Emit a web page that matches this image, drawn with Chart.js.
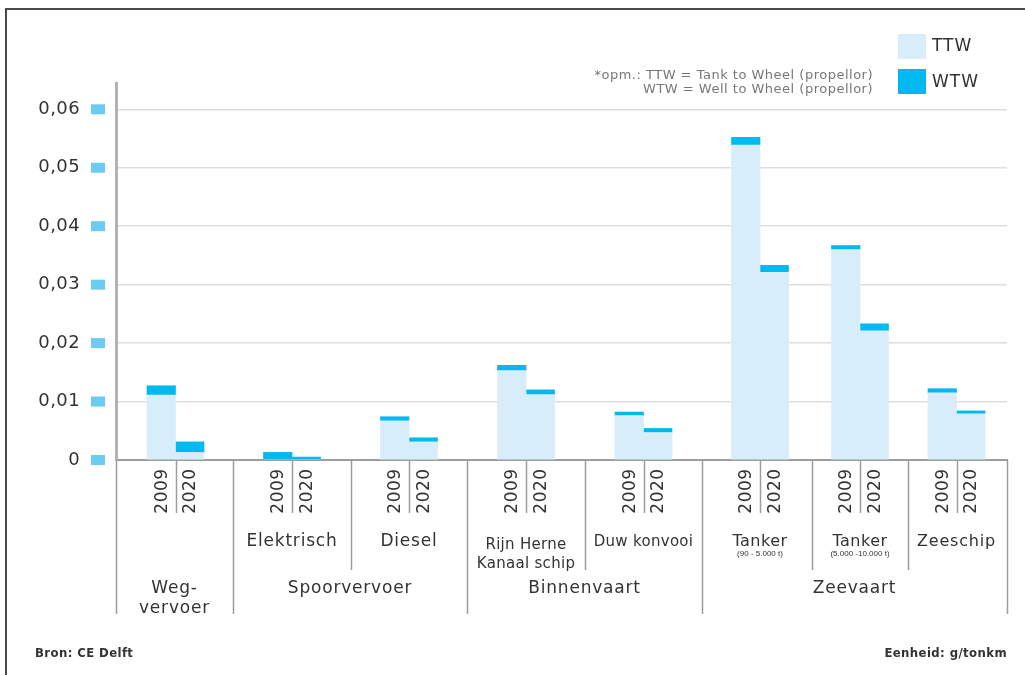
<!DOCTYPE html>
<html lang="nl">
<head>
<meta charset="utf-8">
<title>Uitstoot per tonkm - TTW en WTW</title>
<script src="https://cdn.jsdelivr.net/npm/chart.js@4.4.1/dist/chart.umd.min.js"></script>
<style>
  html, body { margin: 0; padding: 0; background: #fff; }
  #wrap { width: 1025px; height: 675px; }
</style>
</head>
<body>
<div id="wrap"><canvas id="grafiek" width="1025" height="675"></canvas></div>
<script>
// ---- Gegevens (g/tonkm) ----
const jaren = ['2009', '2020'];
const categorieen = [['Weg-', 'vervoer'], ['Spoorvervoer'], ['Binnenvaart'], ['Zeevaart']];
const groepenPerCategorie = [1, 2, 2, 3];
const groepen = [
    [], ['Elektrisch'], ['Diesel'], ['Rijn Herne', 'Kanaal schip'], ['Duw konvooi'],
    ['Tanker', '(90 - 5.000 t)'], ['Tanker', '(5.000 -10.000 t)'], ['Zeeschip']
];
const ttw2009 = [0.0111, 0.0000, 0.0067, 0.0153, 0.0076, 0.0539, 0.0360, 0.0115];
const ttw2020 = [0.0013, 0.0000, 0.0031, 0.0112, 0.0047, 0.0321, 0.0221, 0.0079];
const wtw2009 = [0.0127, 0.0013, 0.0074, 0.0162, 0.0082, 0.0552, 0.0367, 0.0122];
const wtw2020 = [0.0031, 0.0005, 0.0038, 0.0120, 0.0054, 0.0333, 0.0233, 0.0084];
const yWaarden = [0, 0.01, 0.02, 0.03, 0.04, 0.05, 0.06];
const yLabels = ['0', '0,01', '0,02', '0,03', '0,04', '0,05', '0,06'];

// ---- Opmaak ----
const FONT = '"DejaVu Sans", Verdana, sans-serif';
const KLEUR_TTW = '#d7edfa';
const KLEUR_WTW = '#00b9ef';
// grenzen van de groepen langs de x-as (eenheden van de x-schaal)
const groepGrenzen = [0, 117, 235, 351, 469, 586, 696, 792, 891];
// kleine verschuiving van het balkenpaar binnen een groep
const groepVerschuiving = [1, 0, 0, 0, 0, 3, 0, -1];
const halveBalk = 14.25;
const groepFont = [16, 17, 17, 15, 15, 16, 16, 16];
const groepSpatie = [0.3, 0.8, 0.8, 0.3, 0.3, 0.5, 0.5, 0.8];

const midden = i => (groepGrenzen[i] + groepGrenzen[i + 1]) / 2;
const balkMidden = i => midden(i) + groepVerschuiving[i];

const ttwPunten = [];
const wtwPunten = [];
groepen.forEach((g, i) => {
    ttwPunten.push({ x: balkMidden(i) - halveBalk, y: ttw2009[i] });
    ttwPunten.push({ x: balkMidden(i) + halveBalk, y: ttw2020[i] });
    wtwPunten.push({ x: balkMidden(i) - halveBalk, y: [ttw2009[i], wtw2009[i]] });
    wtwPunten.push({ x: balkMidden(i) + halveBalk, y: [ttw2020[i], wtw2020[i]] });
});

function tekst(ctx, str, x, y, size, opts = {}) {
    ctx.font = (opts.bold ? 'bold ' : '') + size + 'px ' + (opts.family || FONT);
    ctx.fillStyle = opts.kleur || '#333';
    ctx.textAlign = opts.align || 'center';
    ctx.textBaseline = 'middle';
    ctx.letterSpacing = (opts.spatie || 0) + 'px';
    ctx.fillText(str, x, y);
}

// Kader, legenda, blokjes bij de y-as en de labels onder de x-as
const opmaak = {
    id: 'opmaak',
    beforeDraw(chart) {
        chart.ctx.letterSpacing = '0.4px';
    },
    afterDraw(chart) {
        const ctx = chart.ctx;
        const xs = chart.scales.x;
        const ys = chart.scales.y;
        const basis = ys.getPixelForValue(0);
        ctx.save();

        // kader links en boven
        ctx.strokeStyle = '#4a4a4a';
        ctx.lineWidth = 2;
        ctx.beginPath();
        ctx.moveTo(6, 675);
        ctx.lineTo(6, 9);
        ctx.lineTo(1025, 9);
        ctx.stroke();

        // blokjes naast de y-labels
        ctx.fillStyle = '#6ccbf1';
        ys.ticks.forEach(t => {
            const py = ys.getPixelForValue(t.value);
            ctx.fillRect(xs.left - 25, py - 5, 14, 10);
        });

        // scheidingslijnen onder de x-as
        ctx.strokeStyle = '#9d9d9d';
        ctx.lineWidth = 1.5;
        const lijn = (px, tot) => {
            ctx.beginPath();
            ctx.moveTo(px, basis);
            ctx.lineTo(px, tot);
            ctx.stroke();
        };
        const catGrenzen = [0];
        groepenPerCategorie.forEach(n => catGrenzen.push(catGrenzen[catGrenzen.length - 1] + n));
        groepGrenzen.forEach((g, k) => {
            lijn(Math.round(xs.getPixelForValue(g)) + 0.5, catGrenzen.includes(k) ? 614 : 570);
        });
        groepen.forEach((g, i) => lijn(Math.round(xs.getPixelForValue(balkMidden(i))) + 0.5, 513));

        // jaartallen (verticaal)
        groepen.forEach((g, i) => {
            jaren.forEach((jaar, j) => {
                const px = xs.getPixelForValue(balkMidden(i) + (j === 0 ? -halveBalk : halveBalk));
                ctx.save();
                ctx.translate(px + 1, 491);
                ctx.rotate(-Math.PI / 2);
                tekst(ctx, jaar, 0, 0, 17, { spatie: 0.5 });
                ctx.restore();
            });
        });

        // namen van de groepen
        groepen.forEach((g, i) => {
            const px = xs.getPixelForValue(balkMidden(i));
            if (g.length === 2 && g[1].startsWith('(')) {
                tekst(ctx, g[0], px, 542, groepFont[i], { spatie: groepSpatie[i] });
                tekst(ctx, g[1], px, 554, 8, { family: '"Liberation Sans", Arial, sans-serif' });
            } else {
                g.forEach((r, k) => tekst(ctx, r, px, (g.length === 2 ? 545 : 542) + k * 19,
                    groepFont[i], { spatie: groepSpatie[i] }));
            }
        });

        // namen van de categorieen
        categorieen.forEach((c, k) => {
            const px = (xs.getPixelForValue(groepGrenzen[catGrenzen[k]]) +
                        xs.getPixelForValue(groepGrenzen[catGrenzen[k + 1]])) / 2;
            c.forEach((r, j) => tekst(ctx, r, px, 589 + j * 20, 17, { spatie: 0.8 }));
        });

        // legenda
        chart.data.datasets.forEach((ds, k) => {
            ctx.fillStyle = ds.backgroundColor;
            ctx.fillRect(898, 34 + k * 35, 28, 25);
            tekst(ctx, ds.label, 932, 47 + k * 36, 17, { align: 'left', spatie: 1 });
        });
        tekst(ctx, '*opm.: TTW = Tank to Wheel (propellor)', 873, 76, 13, { align: 'right', kleur: '#777', spatie: 0.5 });
        tekst(ctx, 'WTW = Well to Wheel (propellor)', 873, 90, 13, { align: 'right', kleur: '#777', spatie: 0.5 });

        // bron en eenheid
        const smal = '"DejaVu Sans Condensed", "DejaVu Sans", sans-serif';
        tekst(ctx, 'Bron: CE Delft', 35, 654, 13, { align: 'left', bold: true, family: smal, spatie: 0.4 });
        tekst(ctx, 'Eenheid: g/tonkm', 1007, 654, 13, { align: 'right', bold: true, family: smal, spatie: 0.4 });

        ctx.restore();
        ctx.letterSpacing = '0px';
    }
};

new Chart(document.getElementById('grafiek'), {
    type: 'bar',
    data: {
        datasets: [
            { label: 'TTW', data: ttwPunten, backgroundColor: KLEUR_TTW, grouped: false, barThickness: 28.5 },
            { label: 'WTW', data: wtwPunten, backgroundColor: KLEUR_WTW, grouped: false, barThickness: 28.5 }
        ]
    },
    options: {
        responsive: false,
        animation: false,
        layout: { padding: { top: 83, right: 18, left: 0, bottom: 0 } },
        plugins: {
            legend: { display: false },
            tooltip: { enabled: false }
        },
        scales: {
            x: {
                type: 'linear',
                offset: false,
                min: groepGrenzen[0],
                max: groepGrenzen[groepGrenzen.length - 1],
                ticks: { display: false },
                grid: { display: false, drawTicks: false },
                border: { color: '#9d9d9d', width: 2 },
                afterFit: s => { s.height = 215; }
            },
            y: {
                min: 0,
                max: 0.0645,
                afterBuildTicks: s => { s.ticks = yWaarden.map(v => ({ value: v })); },
                ticks: {
                    callback: (v, i) => yLabels[i],
                    color: '#333',
                    font: { family: FONT, size: 18 },
                    padding: 36
                },
                grid: { color: '#dedede', lineWidth: 1.5, drawTicks: false },
                border: { color: '#b3b3b3', width: 3 },
                afterFit: s => { s.width = 116; }
            }
        }
    },
    plugins: [opmaak]
});
</script>
</body>
</html>
